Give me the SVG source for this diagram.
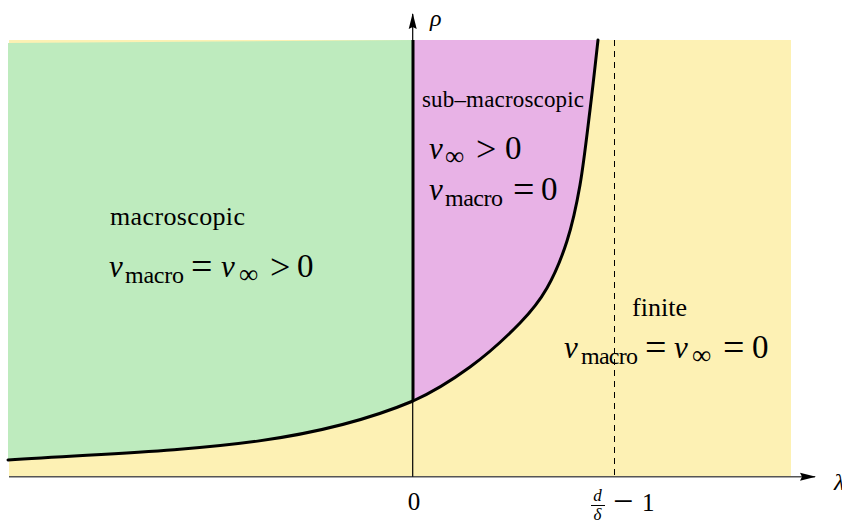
<svg xmlns="http://www.w3.org/2000/svg" width="842" height="523" viewBox="0 0 842 523">
<style>
text{font-family:'Liberation Serif','DejaVu Serif',serif;fill:#000}
.i{font-style:italic}
.curve{fill:none;stroke:#000;stroke-width:3;stroke-linejoin:round;stroke-linecap:round}
</style>
<defs>
<marker id="arr" viewBox="0 0 16 10" refX="15" refY="5" markerWidth="16" markerHeight="10" markerUnits="userSpaceOnUse" orient="auto">
<path d="M0,1 L16,5 L0,9 L2,5 Z" fill="#000"/>
</marker>
</defs>
<rect x="0" y="0" width="842" height="523" fill="#fff"/>
<g id="region-finite">
<rect x="9" y="40" width="782" height="436.5" fill="#FDF1B4"/>
</g>
<g id="region-macroscopic">
<path d="M8,43 L413,40 L413,401 C293,451.4 158,449.5 8,460 Z" fill="#BEEBBE"/>
</g>
<g id="region-sub-macroscopic">
<path d="M413,40 L598,40 C596.7,51.7 593,85.8 590,110 C587,134.2 583.8,163.2 580,185 C576.2,206.8 572.5,223.8 567,241 C561.5,258.2 554.8,274.3 547,288 C539.2,301.7 532.8,309.8 520,323 C507.2,336.2 487.8,354 470,367 C452.2,380 434.7,391.25 413,401 Z" fill="#E8B2E6"/>
</g>
<g id="boundaries">
<line x1="614.5" y1="40" x2="614.5" y2="476" stroke="#000" stroke-width="1" stroke-dasharray="6 5"/>
<line x1="413" y1="40" x2="413" y2="401" stroke="#000" stroke-width="3"/>
<path class="curve" d="M8,460 C158,449.5 293,451.4 413,401 C434.7,391.25 452.2,380 470,367 C487.8,354 507.2,336.2 520,323 C532.8,309.8 539.2,301.7 547,288 C554.8,274.3 561.5,258.2 567,241 C572.5,223.8 576.2,206.8 580,185 C583.8,163.2 587,134.2 590,110 C593,85.8 596.7,51.7 598,40"/>
</g>
<g id="connectors">
<line x1="9" y1="476.7" x2="815" y2="476.7" stroke="#555" stroke-width="1.5" marker-end="url(#arr)"/>
<line x1="412.7" y1="476.7" x2="412.7" y2="14" stroke="#000" stroke-width="1.2" marker-end="url(#arr)"/>
</g>
<g id="axis-labels" font-family="'Liberation Serif','DejaVu Serif',serif">
<text class="i" x="430" y="26" font-size="24">ρ</text>
<text class="i" x="834" y="490" font-size="24">λ</text>
<text x="414" y="510" font-size="25" text-anchor="middle">0</text>
<text class="i" x="597.5" y="501" font-size="17" text-anchor="middle">d</text>
<line x1="591" y1="505.5" x2="605" y2="505.5" stroke="#000" stroke-width="1"/>
<text class="i" x="597.5" y="520" font-size="17" text-anchor="middle">δ</text>
<text x="613" y="513" font-size="36">−</text>
<text x="642" y="511" font-size="25">1</text>
</g>
<g id="label-macroscopic" font-family="'Liberation Serif','DejaVu Serif',serif">
<text x="110" y="225" font-size="26" textLength="135">macroscopic</text>
<text class="i" x="109" y="277" font-size="31">ν</text>
<text x="125" y="283" font-size="24" textLength="59">macro</text>
<text x="191" y="279" font-size="38">=</text>
<text class="i" x="221" y="277" font-size="31">ν</text>
<text x="239" y="283" font-size="27">∞</text>
<text x="270" y="279" font-size="36">&gt;</text>
<text x="297" y="277" font-size="33">0</text>
</g>
<g id="label-sub-macroscopic" font-family="'Liberation Serif','DejaVu Serif',serif">
<text x="422" y="107" font-size="23" textLength="162">sub–macroscopic</text>
<text class="i" x="429" y="159" font-size="31">ν</text>
<text x="445" y="165" font-size="27">∞</text>
<text x="476" y="161" font-size="36">&gt;</text>
<text x="505" y="159" font-size="33">0</text>
<text class="i" x="429" y="200" font-size="31">ν</text>
<text x="445" y="206" font-size="24" textLength="58">macro</text>
<text x="513" y="202" font-size="38">=</text>
<text x="541" y="200" font-size="33">0</text>
</g>
<g id="label-finite" font-family="'Liberation Serif','DejaVu Serif',serif">
<text x="632" y="316" font-size="26" textLength="55">finite</text>
<text class="i" x="564" y="358" font-size="31">ν</text>
<text x="581" y="364" font-size="24" textLength="57">macro</text>
<text x="645" y="360" font-size="38">=</text>
<text class="i" x="674" y="358" font-size="31">ν</text>
<text x="692" y="364" font-size="27">∞</text>
<text x="723" y="360" font-size="38">=</text>
<text x="752" y="358" font-size="33">0</text>
</g>
</svg>
